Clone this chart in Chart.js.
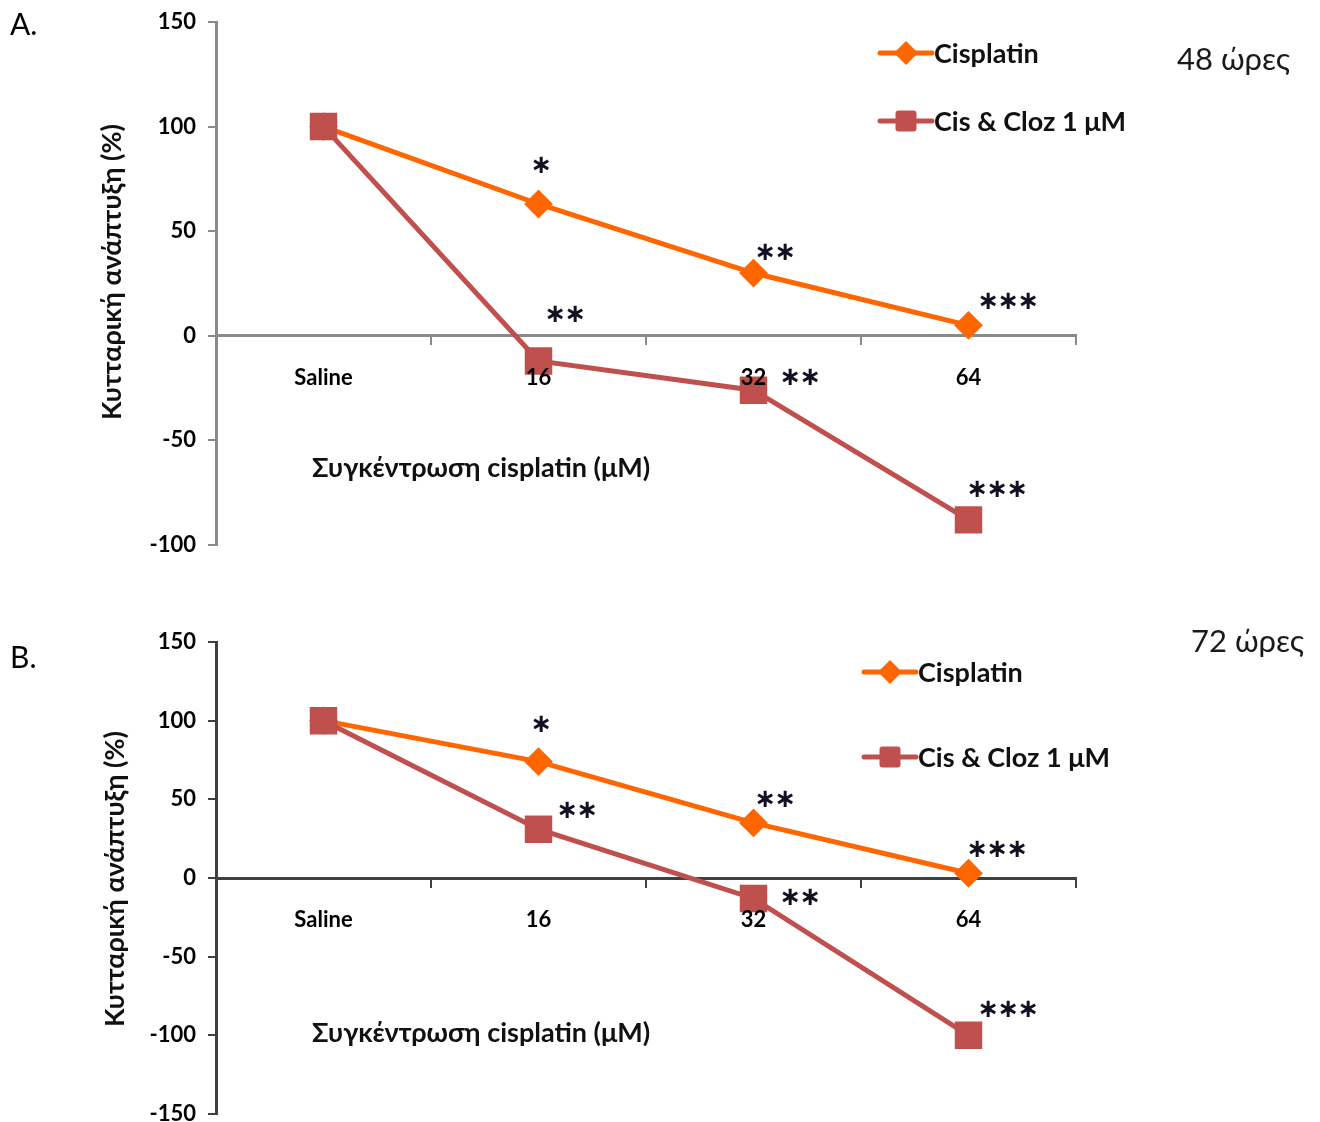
<!DOCTYPE html>
<html>
<head>
<meta charset="utf-8">
<script src="https://cdn.jsdelivr.net/npm/chart.js@4.4.1/dist/chart.umd.min.js"></script>
<style>
  html, body { margin: 0; padding: 0; background: #ffffff; }
  body { width: 1320px; height: 1122px; position: relative; overflow: hidden; }
  canvas { position: absolute; left: 0; }
  #chartA { top: 0; }
  #chartB { top: 561px; }
</style>
</head>
<body>
<canvas id="chartA" width="1320" height="565"></canvas>
<canvas id="chartB" width="1320" height="573"></canvas>
<script>
// Cisplatin concentrations (x categories)
const doses = ['Saline', '16', '32', '64'];

// Cell growth (%) after 48 hours
const cisplatin48 = [100, 63, 30, 5];
const cisCloz48 = [100, -12, -26, -88];

// Cell growth (%) after 72 hours
const cisplatin72 = [100, 74, 35, 3];
const cisCloz72 = [100, 31, -13, -100];

// Significance marks per point
const sigCisplatin48 = ['', '*', '**', '***'];
const sigCisCloz48 = ['', '**', '**', '***'];
const sigCisplatin72 = ['', '*', '**', '***'];
const sigCisCloz72 = ['', '**', '**', '***'];

// Y-axis ranges
const yRange48 = { min: -100, max: 150, step: 50 };
const yRange72 = { min: -150, max: 150, step: 50 };

const seriesNames = ['Cisplatin', 'Cis & Cloz 1 \u03BCM'];
const yTitle = 'Κυτταρική ανάπτυξη (%)';
const xTitle = 'Συγκέντρωση cisplatin (\u03BCM)';

const ORANGE = '#FF6600';
const RED = '#C0504D';
const LATIN = "Lato, 'Noto Sans', sans-serif";

function drawDiamond(ctx, x, y, r, color) {
  ctx.beginPath();
  ctx.moveTo(x - r, y); ctx.lineTo(x, y - r); ctx.lineTo(x + r, y); ctx.lineTo(x, y + r);
  ctx.closePath();
  ctx.fillStyle = color; ctx.fill();
}
function drawSquare(ctx, x, y, h, color) {
  ctx.beginPath();
  if (ctx.roundRect) ctx.roundRect(x - h, y - h, 2 * h, 2 * h, 3); else ctx.rect(x - h, y - h, 2 * h, 2 * h);
  ctx.fillStyle = color; ctx.fill();
}

function makeChart(id, cfg) {
  const decor = {
    id: 'decor',
    afterDatasetsDraw(chart) {
      const ctx = chart.ctx;
      ctx.save();
      // significance stars
      ctx.fillStyle = '#111122';
      ctx.font = "bold 26px 'DejaVu Sans'";
      ctx.textAlign = 'center';
      ctx.textBaseline = 'middle';
      cfg.stars.forEach((s) => {
        const meta = chart.getDatasetMeta(s.ds);
        s.marks.forEach((m, i) => {
          if (!m) return;
          const pt = meta.data[i];
          const off = s.offsets[i];
          const n = m.length, gap = 20;
          for (let k = 0; k < n; k++) {
            const cx = pt.x + off[0] + (k - (n - 1) / 2) * gap;
            ctx.fillText('\u2217', cx, pt.y + off[1]);
          }
        });
      });
      // panel label and time label
      ctx.fillStyle = '#000';
      ctx.textAlign = 'left';
      ctx.font = "30px " + LATIN;
      ctx.fillText(cfg.panel, cfg.panelPos[0], cfg.panelPos[1]);
      ctx.fillStyle = '#1a1a1a';
      ctx.font = "31px " + LATIN;
      ctx.fillText(cfg.hours, cfg.hoursPos[0], cfg.hoursPos[1]);
      // x-axis title
      ctx.fillStyle = '#111';
      ctx.font = "bold 27px " + LATIN;
      ctx.fillText(xTitle, cfg.xTitlePos[0], cfg.xTitlePos[1]);
      // y-axis title (rotated)
      ctx.save();
      ctx.translate(cfg.yTitlePos[0], cfg.yTitlePos[1]);
      ctx.rotate(-Math.PI / 2);
      ctx.textAlign = 'center';
      ctx.font = "bold 27px " + LATIN;
      ctx.fillText(yTitle, 0, 0);
      ctx.restore();
      // legend
      const lg = cfg.legend;
      [[ORANGE, 'diamond', seriesNames[0], lg.y[0]], [RED, 'square', seriesNames[1], lg.y[1]]].forEach(([col, shape, name, y]) => {
        ctx.strokeStyle = col; ctx.lineWidth = 5; ctx.lineCap = 'round';
        ctx.beginPath(); ctx.moveTo(lg.x0, y); ctx.lineTo(lg.x1, y); ctx.stroke();
        const mx = (lg.x0 + lg.x1) / 2;
        if (shape === 'diamond') drawDiamond(ctx, mx, y, 12, col); else drawSquare(ctx, mx, y, 10.5, col);
        ctx.fillStyle = '#111';
        ctx.textAlign = 'left';
        ctx.font = "bold 27px " + LATIN;
        ctx.fillText(name, lg.x1 + 2, y + 1);
      });
      ctx.restore();
    }
  };

  const tickFont = { family: LATIN, size: 22, weight: 'bold' };

  return new Chart(document.getElementById(id), {
    type: 'line',
    data: {
      labels: doses,
      datasets: [
        {
          label: seriesNames[1], data: cfg.cloz, order: 0,
          borderColor: RED, backgroundColor: RED, borderWidth: 5,
          pointStyle: 'rect', pointRadius: 18, pointBorderWidth: 2,
          pointBorderColor: RED, pointBackgroundColor: RED, tension: 0
        },
        {
          label: seriesNames[0], data: cfg.cis, order: 1,
          borderColor: ORANGE, backgroundColor: ORANGE, borderWidth: 5,
          pointStyle: 'rectRot', pointRadius: 13, pointBorderWidth: 2,
          pointBorderColor: ORANGE, pointBackgroundColor: ORANGE, tension: 0
        }
      ]
    },
    options: {
      responsive: false,
      animation: false,
      devicePixelRatio: 1,
      layout: { padding: cfg.padding },
      plugins: { legend: { display: false }, tooltip: { enabled: false } },
      scales: {
        x: {
          type: 'category',
          position: { y: 0 },
          offset: true,
          grid: { offset: true, drawOnChartArea: false, drawTicks: true, tickLength: 8, color: cfg.axisColor, lineWidth: 2 },
          border: { display: true, color: cfg.axisColor, width: 3 },
          // category labels sit above the markers
          ticks: { z: 1, color: '#000', font: tickFont, padding: 21, maxRotation: 0 }
        },
        y: {
          min: cfg.range.min, max: cfg.range.max,
          ticks: { stepSize: cfg.range.step, color: '#000', font: tickFont, padding: 12 },
          grid: { drawOnChartArea: false, drawTicks: true, tickLength: 8, color: cfg.axisColor, lineWidth: 2 },
          border: { display: true, color: cfg.axisColor, width: 3 },
          afterFit(scale) { scale.width = 216; scale.paddingTop = 0; scale.paddingBottom = 0; }
        }
      }
    },
    plugins: [decor]
  });
}

makeChart('chartA', {
  cis: cisplatin48, cloz: cisCloz48, range: yRange48,
  padding: { left: 0, top: 22, right: 244, bottom: 0 },
  axisColor: '#8a8a8a',
  panel: 'A.', panelPos: [10, 25],
  hours: '48 ώρες', hoursPos: [1177, 60],
  xTitlePos: [312, 468],
  yTitlePos: [112, 272],
  legend: { x0: 880, x1: 932, y: [53, 121] },
  stars: [
    { ds: 1, marks: sigCisplatin48, offsets: [[0, 0], [3, -38], [22, -20], [40, -23]] },
    { ds: 0, marks: sigCisCloz48, offsets: [[0, 0], [27, -46], [47, -12], [29, -30]] }
  ]
});

makeChart('chartB', {
  cis: cisplatin72, cloz: cisCloz72, range: yRange72,
  padding: { left: 0, top: 81, right: 244, bottom: 0 },
  axisColor: '#404040',
  panel: 'B.', panelPos: [10, 97],
  hours: '72 ώρες', hoursPos: [1191, 81],
  xTitlePos: [312, 472],
  yTitlePos: [115, 318],
  legend: { x0: 864, x1: 916, y: [111, 196] },
  stars: [
    { ds: 1, marks: sigCisplatin72, offsets: [[0, 0], [3, -36], [22, -23], [29, -23]] },
    { ds: 0, marks: sigCisCloz72, offsets: [[0, 0], [39, -18], [47, 0], [40, -25]] }
  ]
});
</script>
</body>
</html>
